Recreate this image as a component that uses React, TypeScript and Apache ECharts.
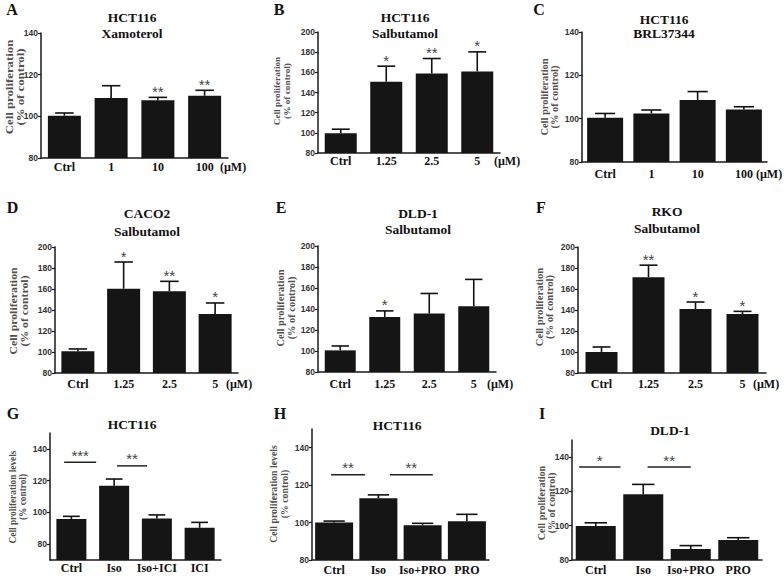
import React, { useEffect, useRef } from "react";
import * as echarts from "echarts";

// ---------------- Data ----------------
const catsA = ["Ctrl", "1", "10", "100"];
const meansA = [100.3, 108.8, 107.7, 109.9];
const semA = [1.3, 5.9, 1.4, 2.6];
const starsA = ["", "", "**", "**"];

const catsB = ["Ctrl", "1.25", "2.5", "5"];
const meansB = [99.7, 150.7, 158.9, 160.9];
const semB = [3.9, 15.4, 14.8, 19.4];
const starsB = ["", "*", "**", "*"];

const catsC = ["Ctrl", "1", "10", "100"];
const meansC = [100.4, 102.4, 108.6, 104.2];
const semC = [2.0, 1.6, 3.9, 1.3];
const starsC = ["", "", "", ""];

const catsD = ["Ctrl", "1.25", "2.5", "5"];
const meansD = [100.6, 160.3, 157.8, 136.2];
const semD = [2.3, 25.4, 9.5, 10.5];
const starsD = ["", "*", "**", "*"];

const catsE = ["Ctrl", "1.25", "2.5", "5"];
const meansE = [100.6, 132.5, 135.7, 142.7];
const semE = [4.2, 5.7, 19.1, 25.5];
const starsE = ["", "*", "", ""];

const catsF = ["Ctrl", "1.25", "2.5", "5"];
const meansF = [100.0, 171.2, 140.9, 136.1];
const semF = [4.8, 11.5, 6.7, 2.6];
const starsF = ["", "**", "*", "*"];

const catsG = ["Ctrl", "Iso", "Iso+ICI", "ICI"];
const meansG = [95.8, 116.7, 96.2, 90.3];
const semG = [1.7, 4.3, 2.2, 3.4];
const sigFromG = [-0.17, 1.07];
const sigToG = [0.58, 1.77];
const sigLevelG = [131.5, 129.3];
const sigStarsG = ["***", "**"];

const catsH = ["Ctrl", "Iso", "Iso+PRO", "PRO"];
const meansH = [100.0, 113.0, 98.6, 100.7];
const semH = [0.8, 1.8, 1.0, 3.7];
const sigFromH = [-0.07, 1.26];
const sigToH = [0.7, 2.23];
const sigLevelH = [125.5, 125.5];
const sigStarsH = ["**", "**"];

const catsI = ["Ctrl", "Iso", "Iso+PRO", "PRO"];
const meansI = [99.8, 118.3, 86.4, 91.6];
const semI = [1.9, 5.8, 2.0, 1.4];
const sigFromI = [-0.35, 1.09];
const sigToI = [0.52, 2.0];
const sigLevelI = [134.2, 134.2];
const sigStarsI = ["*", "**"];

const ticksDose140 = [80, 100, 120, 140];
const ticksDose200 = [80, 100, 120, 140, 160, 180, 200];
const ticksCombo = [80, 100, 120, 140];

const yNameStd = "Cell proliferation\n(% of control)";
const yNameLevels = "Cell proliferation levels\n(% control)";
const unitText = "(\u00b5M)";

// ---------------- Layout ----------------
const SERIF = '"Liberation Serif", "Times New Roman", serif';
const SANS = '"Liberation Sans", Arial, sans-serif';

type Panel = {
  letter: string; cats: string[]; means: number[]; sem: number[]; stars?: string[];
  sigFrom?: number[]; sigTo?: number[]; sigLevel?: number[]; sigStars?: string[];
  ticks: number[]; title: string; yName: string; unit: boolean;
  left: number; top: number; width: number; height: number; yMin: number; yMax: number;
  barW: number; labelMargin: number;
  letterPos: [number, number]; titlePos: [number, number]; titleLH: number;
  yNamePos: [number, number]; yNameSize: number; yNameLH: number; yNameStretch: number;
  unitPos?: [number, number];
};

const panels: Panel[] = [
  { letter: "A", cats: catsA, means: meansA, sem: semA, stars: starsA, ticks: ticksDose140,
    title: "HCT116\nXamoterol", yName: yNameStd, unit: true,
    left: 41, top: 33, width: 187, height: 125, yMin: 80, yMax: 140, barW: 33, labelMargin: 3,
    letterPos: [12, 9], titlePos: [132, 25], titleLH: 16,
    yNamePos: [15, 87], yNameSize: 10, yNameLH: 10.5, yNameStretch: 1.28, unitPos: [233, 167] },
  { letter: "B", cats: catsB, means: meansB, sem: semB, stars: starsB, ticks: ticksDose200,
    title: "HCT116\nSalbutamol", yName: yNameStd, unit: true,
    left: 318, top: 32, width: 182, height: 121, yMin: 80, yMax: 200, barW: 32, labelMargin: 2,
    letterPos: [279, 9], titlePos: [405, 25], titleLH: 16,
    yNamePos: [282, 91], yNameSize: 9, yNameLH: 10, yNameStretch: 1.03, unitPos: [507, 161] },
  { letter: "C", cats: catsC, means: meansC, sem: semC, stars: starsC, ticks: ticksDose140,
    title: "HCT116\nBRL37344", yName: yNameStd, unit: true,
    left: 582, top: 32, width: 185, height: 130, yMin: 80, yMax: 140, barW: 36, labelMargin: 6,
    letterPos: [539, 9], titlePos: [664, 26], titleLH: 14,
    yNamePos: [550, 97], yNameSize: 9.5, yNameLH: 10, yNameStretch: 1.1, unitPos: [769, 174] },
  { letter: "D", cats: catsD, means: meansD, sem: semD, stars: starsD, ticks: ticksDose200,
    title: "CACO2\nSalbutamol", yName: yNameStd, unit: true,
    left: 55, top: 247, width: 183, height: 126, yMin: 80, yMax: 200, barW: 33, labelMargin: 5,
    letterPos: [12.5, 207], titlePos: [147, 222], titleLH: 18,
    yNamePos: [19, 311], yNameSize: 10, yNameLH: 10.5, yNameStretch: 1.18, unitPos: [239, 384] },
  { letter: "E", cats: catsE, means: meansE, sem: semE, stars: starsE, ticks: ticksDose200,
    title: "DLD-1\nSalbutamol", yName: yNameStd, unit: true,
    left: 318, top: 246, width: 178, height: 126, yMin: 80, yMax: 200, barW: 31, labelMargin: 6,
    letterPos: [281, 207], titlePos: [418, 221], titleLH: 16,
    yNamePos: [286, 308], yNameSize: 10, yNameLH: 11, yNameStretch: 1.04, unitPos: [500, 384] },
  { letter: "F", cats: catsF, means: meansF, sem: semF, stars: starsF, ticks: ticksDose200,
    title: "RKO\nSalbutamol", yName: yNameStd, unit: true,
    left: 578, top: 247, width: 188, height: 126, yMin: 80, yMax: 200, barW: 32, labelMargin: 5,
    letterPos: [541, 207], titlePos: [667, 220], titleLH: 17,
    yNamePos: [545, 307], yNameSize: 10, yNameLH: 10, yNameStretch: 1.06, unitPos: [766, 384] },
  { letter: "G", cats: catsG, means: meansG, sem: semG, ticks: ticksCombo,
    sigFrom: sigFromG, sigTo: sigToG, sigLevel: sigLevelG, sigStars: sigStarsG,
    title: "HCT116", yName: yNameLevels, unit: false,
    left: 50, top: 433, width: 171, height: 127, yMin: 70, yMax: 150, barW: 30, labelMargin: 2,
    letterPos: [13, 413], titlePos: [132, 424], titleLH: 16,
    yNamePos: [18, 497], yNameSize: 9.5, yNameLH: 10, yNameStretch: 0.98 },
  { letter: "H", cats: catsH, means: meansH, sem: semH, ticks: ticksCombo,
    sigFrom: sigFromH, sigTo: sigToH, sigLevel: sigLevelH, sigStars: sigStarsH,
    title: "HCT116", yName: yNameLevels, unit: false,
    left: 312, top: 429, width: 177, height: 133, yMin: 80, yMax: 150, barW: 38, labelMargin: 4,
    letterPos: [280, 413], titlePos: [397, 425], titleLH: 16,
    yNamePos: [279, 494], yNameSize: 10, yNameLH: 10.5, yNameStretch: 0.98 },
  { letter: "I", cats: catsI, means: meansI, sem: semI, ticks: ticksCombo,
    sigFrom: sigFromI, sigTo: sigToI, sigLevel: sigLevelI, sigStars: sigStarsI,
    title: "DLD-1", yName: yNameStd, unit: false,
    left: 572, top: 440, width: 190, height: 120, yMin: 80, yMax: 150, barW: 40, labelMargin: 4,
    letterPos: [542, 413], titlePos: [670, 430], titleLH: 16,
    yNamePos: [547, 503], yNameSize: 9.5, yNameLH: 10, yNameStretch: 1.06 },
];

const N = panels.length;

function buildOption() {
  const grid = panels.map((p) => ({ left: p.left, top: p.top, width: p.width, height: p.height }));
  const xAxis: any[] = [];
  const yAxis: any[] = [];
  const series: any[] = [];
  const graphic: any[] = [];

  panels.forEach((p, i) => {
    xAxis.push({
      type: "category", gridIndex: i, data: p.cats, boundaryGap: true,
      axisLine: { show: true, onZero: false, lineStyle: { color: "#1a1a1a", width: 1.5 } },
      axisTick: { show: false },
      axisLabel: { interval: 0, hideOverlap: false, margin: p.labelMargin, fontFamily: SERIF, fontWeight: "bold", fontSize: 12, color: "#111" },
      splitLine: { show: false },
    });
    yAxis.push({
      type: "value", gridIndex: i, min: p.yMin, max: p.yMax,
      axisLine: { show: true, onZero: false, lineStyle: { color: "#1a1a1a", width: 1.5 } },
      axisTick: { show: true, length: 3, customValues: p.ticks, lineStyle: { color: "#1a1a1a", width: 1.2 } },
      axisLabel: { customValues: p.ticks, margin: 3, fontFamily: SANS, fontWeight: "bold", fontSize: 8.5, color: "#333" },
      splitLine: { show: false },
    });
  });
  // hidden value x-axes for significance brackets
  panels.forEach((p, i) => {
    xAxis.push({ type: "value", gridIndex: i, min: -0.5, max: 3.5, show: false,
      axisLine: { show: false, onZero: false }, splitLine: { show: false } });
  });

  panels.forEach((p, i) => {
    series.push({
      type: "bar", xAxisIndex: i, yAxisIndex: i, data: p.means, barWidth: p.barW,
      itemStyle: { color: "#151515" }, silent: true, z: 2,
    });
    const capW = p.barW * 0.56;
    series.push({
      type: "custom", xAxisIndex: i, yAxisIndex: i, z: 3, silent: true,
      data: p.means.map((m, k) => [k, m, m + p.sem[k]]),
      renderItem: (params: any, api: any) => {
        const x = api.value(0);
        const p0 = api.coord([x, api.value(1)]);
        const p1 = api.coord([x, api.value(2)]);
        const st = { stroke: "#111", lineWidth: 1.6 };
        return {
          type: "group",
          children: [
            { type: "line", shape: { x1: p0[0], y1: p0[1], x2: p1[0], y2: p1[1] }, style: st },
            { type: "line", shape: { x1: p1[0] - capW / 2, y1: p1[1], x2: p1[0] + capW / 2, y2: p1[1] }, style: st },
          ],
        };
      },
    });
    if (p.stars) {
      const stars = p.stars;
      series.push({
        type: "custom", xAxisIndex: i, yAxisIndex: i, z: 4, silent: true,
        data: p.means.map((m, k) => [k, m + p.sem[k]]),
        renderItem: (params: any, api: any) => {
          const s = stars[params.dataIndex];
          if (!s) return null;
          const pt = api.coord([api.value(0), api.value(1)]);
          return {
            type: "text", x: pt[0], y: pt[1] - 6,
            style: { text: s, align: "center", verticalAlign: "middle", fontFamily: SANS, fontSize: 15, fill: "#444" },
          };
        },
      });
    }
    if (p.sigFrom && p.sigTo && p.sigLevel && p.sigStars) {
      const from = p.sigFrom, to = p.sigTo, lv = p.sigLevel, ss = p.sigStars;
      series.push({
        type: "custom", xAxisIndex: N + i, yAxisIndex: i, z: 4, silent: true,
        data: from.map((f, k) => [f, to[k], lv[k]]),
        renderItem: (params: any, api: any) => {
          const a = api.coord([api.value(0), api.value(2)]);
          const b = api.coord([api.value(1), api.value(2)]);
          return {
            type: "group",
            children: [
              { type: "line", shape: { x1: a[0], y1: a[1], x2: b[0], y2: b[1] }, style: { stroke: "#222", lineWidth: 1.5 } },
              { type: "text", x: (a[0] + b[0]) / 2, y: a[1] - 7,
                style: { text: ss[params.dataIndex], align: "center", verticalAlign: "middle", fontFamily: SANS, fontSize: 15, fill: "#444" } },
            ],
          };
        },
      });
    }

    graphic.push({
      type: "text", x: p.letterPos[0], y: p.letterPos[1],
      style: { text: p.letter, align: "center", verticalAlign: "middle", fontFamily: SERIF, fontWeight: "bold", fontSize: 16, fill: "#111" },
    });
    graphic.push({
      type: "text", x: p.titlePos[0], y: p.titlePos[1],
      style: { text: p.title, align: "center", verticalAlign: "middle", lineHeight: p.titleLH, fontFamily: SERIF, fontWeight: "bold", fontSize: 13.5, fill: "#111" },
    });
    graphic.push({
      type: "text", x: p.yNamePos[0], y: p.yNamePos[1], rotation: Math.PI / 2, scaleX: p.yNameStretch, scaleY: 1,
      style: { text: p.yName, align: "center", verticalAlign: "middle", lineHeight: p.yNameLH, fontFamily: SERIF, fontWeight: "bold", fontSize: p.yNameSize, fill: "#505050" },
    });
    if (p.unit && p.unitPos) {
      graphic.push({
        type: "text", x: p.unitPos[0], y: p.unitPos[1],
        style: { text: unitText, align: "center", verticalAlign: "middle", fontFamily: SERIF, fontWeight: "bold", fontSize: 12, fill: "#111" },
      });
    }
  });

  return { animation: false, backgroundColor: "#ffffff", grid, xAxis, yAxis, series, graphic };
}

export default function App() {
  const ref = useRef<HTMLDivElement>(null);
  useEffect(() => {
    document.body.style.margin = "0";
    if (!ref.current) return;
    const chart = echarts.init(ref.current, null, { renderer: "svg" });
    chart.setOption(buildOption() as any);
    return () => chart.dispose();
  }, []);
  return <div ref={ref} style={{ width: 784, height: 576 }} />;
}
